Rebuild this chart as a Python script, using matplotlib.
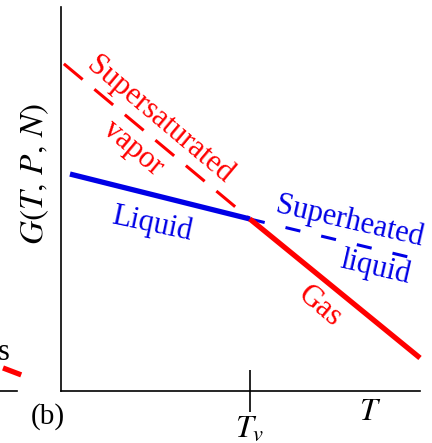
import matplotlib.pyplot as plt

plt.rcParams['font.family'] = ['Liberation Serif', 'DejaVu Serif']
plt.rcParams['mathtext.fontset'] = 'stix'

# --------------- data --------------- #
T_v = 5.26
liquid_T = [0.25, T_v]
liquid_G = [5.65, 4.48]
superheated_T = [T_v, 9.81]
superheated_G = [4.48, 3.46]
vapor_T = [0.08, T_v]
vapor_G = [8.52, 4.48]
gas_T = [T_v, 10.0]
gas_G = [4.48, 0.86]

# fragment of panel (a) on the left
a_gas_T = [0.0, 1.3]
a_gas_G = [0.6, 0.42]

RED = '#ff0000'
BLUE = '#0000e6'

fig = plt.figure(figsize=(4.32, 4.43), dpi=100)
ax = fig.add_axes([61 / 432, 1 - 391 / 443, 359 / 432, 384 / 443])
ax.set_xlim(0, 10)
ax.set_ylim(0, 10)

ax.plot(vapor_T, vapor_G, color=RED, lw=2.2, dashes=(8, 5))
ax.plot(superheated_T, superheated_G, color=BLUE, lw=2.2, dashes=(5, 7))
ax.plot(liquid_T, liquid_G, color=BLUE, lw=3.8, solid_capstyle='butt')
ax.plot(gas_T, gas_G, color=RED, lw=3.8, solid_capstyle='butt', clip_on=False)

for s in ['top', 'right']:
    ax.spines[s].set_visible(False)
ax.spines['left'].set_linewidth(1.2)
ax.spines['bottom'].set_linewidth(1.2)
ax.set_xticks([T_v])
ax.set_xticklabels([r'$T_v$'], fontsize=23)
ax.tick_params(axis='x', direction='inout', length=30, width=1.2, pad=2)
ax.set_yticks([])
ax.set_ylabel(r'$G(T,\,P,\,N)$', fontsize=24)
ax.yaxis.set_label_coords(-0.028, 0.565)

kw = dict(ha='center', va='center', rotation_mode='anchor', fontsize=22)
ax.text(2.76, 7.06, 'Supersaturated', color=RED, rotation=-40, **kw)
ax.text(2.0, 6.33, 'vapor', color=RED, rotation=-40, **kw)
ax.text(2.53, 4.36, 'Liquid', color=BLUE, rotation=-12, **kw)
ax.text(8.05, 4.40, 'Superheated', color=BLUE, rotation=-13, **kw)
ax.text(8.75, 3.2, 'liquid', color=BLUE, rotation=-13, **kw)
ax.text(7.21, 2.21, 'Gas', color=RED, rotation=-40, **kw)
ax.text(8.6, -0.55, r'$T$', fontsize=23, ha='center', va='center')

fig.text(48 / 432, 1 - 417 / 443, '(b)', fontsize=21, ha='center', va='center')

# --------------- left neighbour panel (a) fragment --------------- #
ax_a = fig.add_axes([-60 / 432, 1 - 391 / 443, 77 / 432, 384 / 443])
ax_a.set_xlim(-4.5, 1.0)
ax_a.set_ylim(0, 10)
ax_a.plot(a_gas_T, a_gas_G, color=RED, lw=3.8, clip_on=False, solid_capstyle='butt')
for s in ['top', 'right', 'left']:
    ax_a.spines[s].set_visible(False)
ax_a.spines['bottom'].set_linewidth(1.2)
ax_a.set_xticks([])
ax_a.set_yticks([])
ax_a.text(0.05, 1.0, 's', fontsize=22, ha='center', va='center')

fig.savefig('out.png', dpi=100)
